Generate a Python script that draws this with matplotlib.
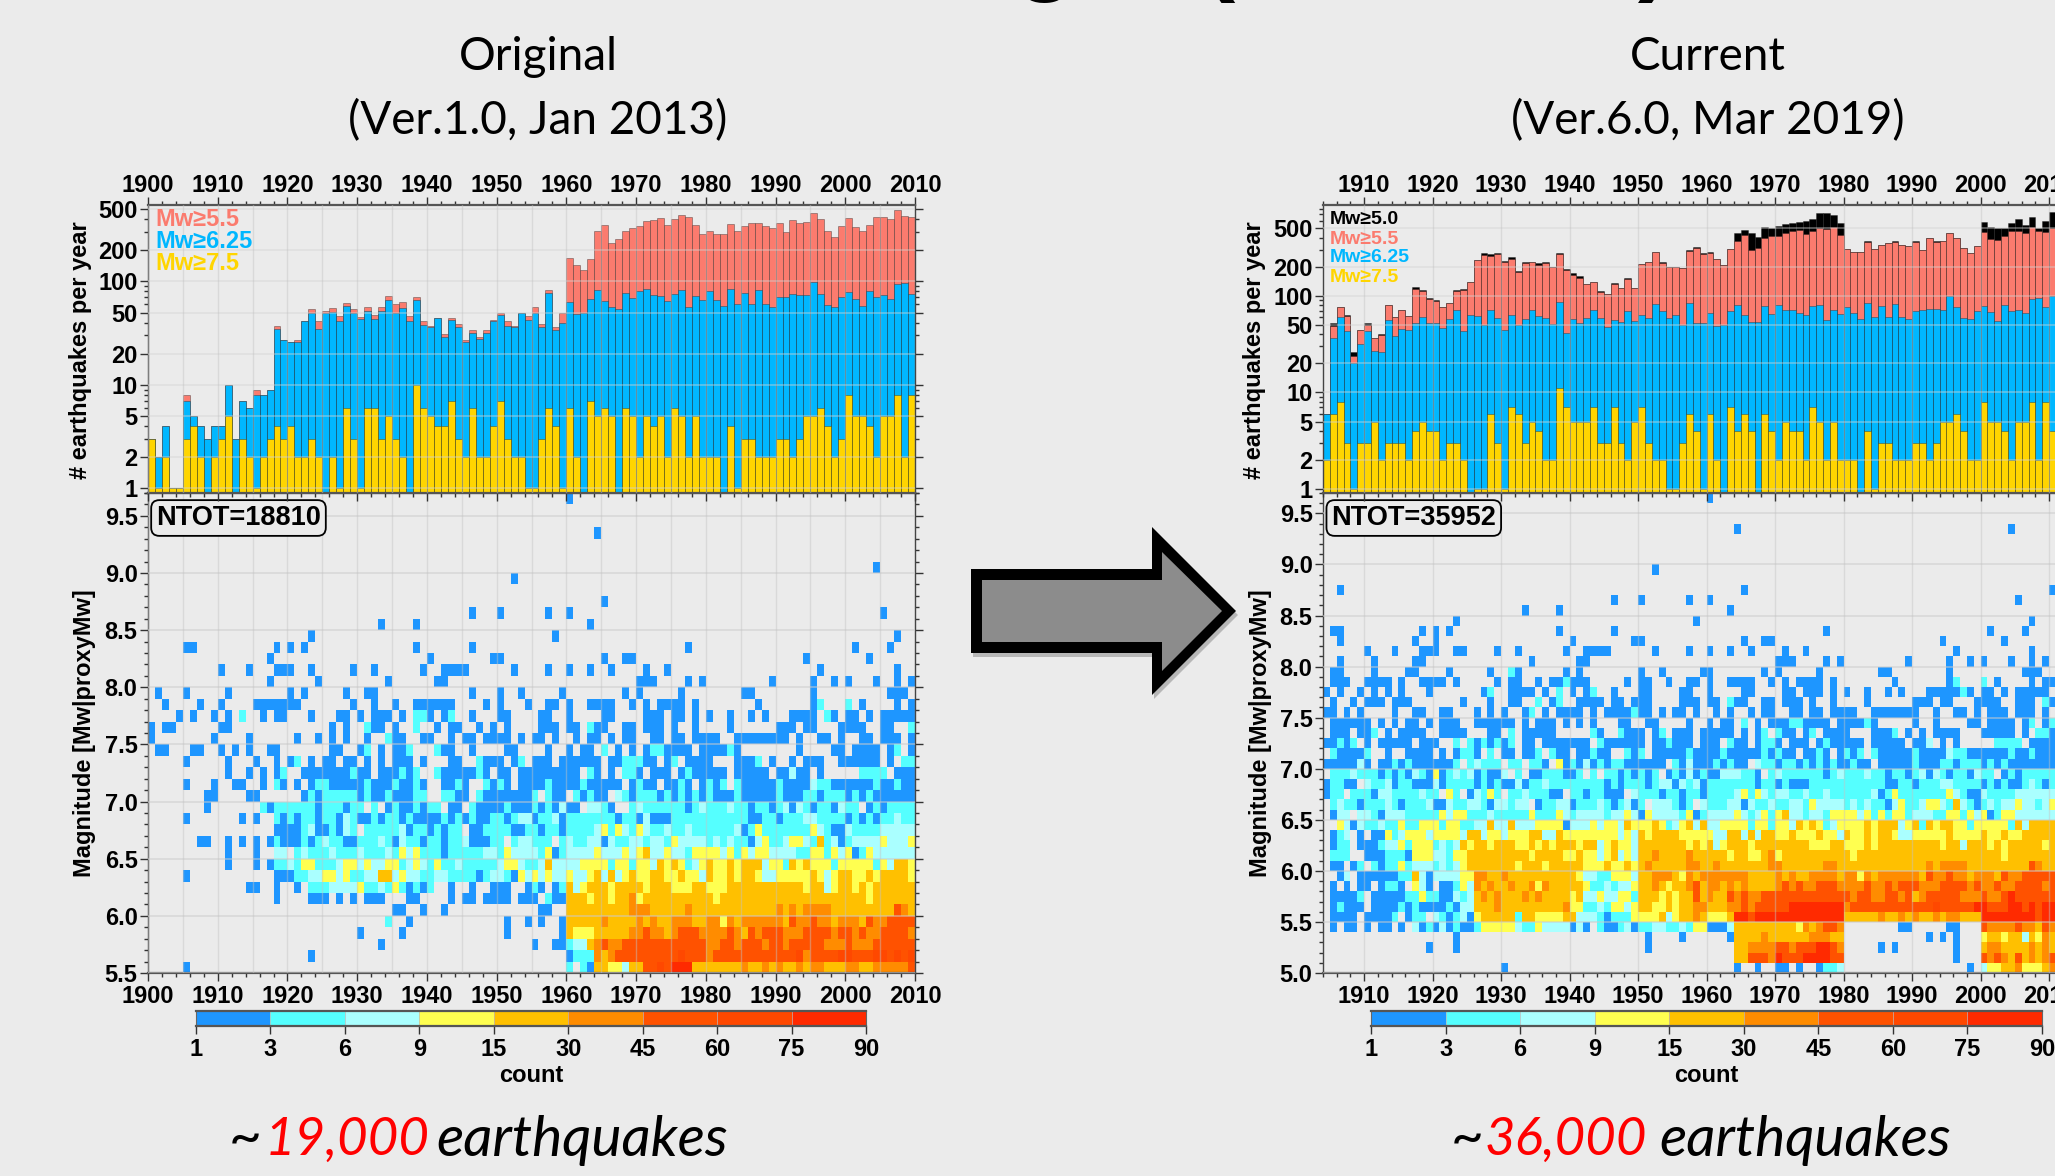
import numpy as np
import matplotlib
matplotlib.use('Agg')
import matplotlib.pyplot as plt
from matplotlib.colors import ListedColormap, BoundaryNorm
from matplotlib.patches import Polygon
from matplotlib.ticker import MultipleLocator, FixedLocator, NullFormatter, FixedFormatter

W, H = 2055, 1176
BG = '#EBEBEB'
# no condensed family is installed, Lato is the narrowest one there is
NARROW = 'Lato'

plt.rcParams['font.family'] = ['Liberation Sans', 'DejaVu Sans']
plt.rcParams['font.weight'] = 'bold'

# colour classes of the count scale
count_bounds = [1, 3, 6, 9, 15, 30, 45, 60, 75, 90]
count_colors = ['#1E96FF', '#55FFFF', '#AAFFFF', '#FFFF50', '#FFC000',
                '#FF8C00', '#FF5200', '#FF4800', '#FF2A00']

# --- earthquakes per year, original catalogue, 1900-2009
left_m75 = [3, 1, 2, 1, 1, 3, 4, 2, 0, 2,
            3, 5, 0, 3, 2, 1, 2, 3, 4, 3,
            4, 2, 2, 3, 2, 0, 2, 1, 6, 3,
            1, 6, 6, 3, 5, 3, 2, 0, 10, 6,
            5, 4, 4, 7, 3, 2, 6, 2, 2, 4,
            7, 3, 2, 2, 1, 1, 3, 6, 4, 1,
            6, 2, 0, 7, 5, 6, 5, 0, 6, 5,
            2, 5, 4, 5, 2, 6, 5, 2, 5, 2,
            2, 2, 0, 4, 1, 3, 3, 2, 2, 2,
            3, 3, 2, 3, 5, 5, 6, 4, 2, 3,
            8, 5, 5, 4, 2, 5, 5, 8, 2, 8]
left_m625 = [3, 2, 4, 1, 1, 7, 5, 4, 3, 4,
             4, 10, 3, 7, 6, 8, 8, 9, 35, 27,
             26, 26, 41, 49, 35, 49, 51, 41, 58, 50,
             43, 52, 43, 52, 66, 50, 55, 41, 66, 38,
             36, 44, 29, 42, 36, 26, 32, 28, 32, 41,
             47, 37, 36, 49, 42, 50, 36, 77, 34, 40,
             63, 48, 50, 68, 83, 65, 56, 54, 77, 69,
             80, 84, 74, 73, 64, 76, 82, 56, 73, 66,
             80, 66, 58, 84, 61, 78, 61, 83, 61, 57,
             70, 71, 76, 74, 74, 99, 76, 59, 56, 70,
             79, 67, 58, 81, 71, 74, 67, 95, 97, 76]
left_m55 = [3, 2, 4, 1, 1, 8, 5, 4, 3, 4,
            4, 10, 3, 7, 6, 9, 8, 9, 37, 27,
            26, 27, 41, 54, 41, 52, 55, 46, 62, 54,
            45, 56, 47, 56, 72, 60, 63, 46, 70, 41,
            37, 44, 31, 44, 39, 27, 34, 29, 34, 42,
            49, 41, 37, 49, 46, 56, 39, 82, 36, 49,
            170, 145, 130, 165, 305, 350, 235, 255, 310, 330,
            340, 385, 390, 410, 350, 405, 440, 420, 350, 290,
            310, 290, 290, 360, 310, 345, 365, 370, 340, 330,
            370, 300, 390, 365, 375, 460, 400, 310, 270, 340,
            410, 335, 310, 350, 420, 415, 400, 490, 430, 415]

# --- earthquakes per year, current catalogue, 1904-2010 (rest is off the slide)
right_m75 = [2, 6, 8, 3, 1, 3, 3, 5, 2, 3,
             3, 3, 2, 4, 5, 4, 4, 2, 3, 3,
             2, 0, 1, 1, 6, 3, 1, 7, 6, 3,
             5, 4, 2, 2, 11, 7, 5, 5, 5, 7,
             3, 3, 7, 3, 2, 5, 7, 3, 2, 2,
             1, 1, 3, 6, 4, 1, 6, 2, 0, 7,
             4, 6, 4, 0, 6, 4, 2, 5, 4, 4,
             2, 7, 5, 2, 5, 2, 2, 2, 0, 4,
             1, 3, 3, 2, 2, 2, 3, 3, 2, 3,
             5, 5, 6, 4, 2, 2, 8, 5, 5, 4,
             2, 5, 5, 8, 2, 8, 4]
right_m625 = [6, 37, 60, 43, 20, 32, 43, 27, 26, 56,
              38, 45, 44, 52, 60, 52, 52, 47, 57, 72,
              43, 63, 62, 50, 72, 59, 44, 64, 50, 57,
              71, 62, 59, 51, 87, 41, 58, 52, 59, 71,
              59, 48, 56, 54, 70, 55, 64, 59, 83, 70,
              59, 64, 50, 84, 52, 53, 66, 49, 50, 69,
              81, 64, 54, 54, 79, 65, 80, 72, 72, 67,
              63, 79, 81, 56, 71, 65, 76, 67, 58, 85,
              60, 78, 61, 82, 60, 57, 69, 71, 74, 73,
              72, 99, 76, 59, 58, 69, 78, 68, 55, 81,
              70, 72, 66, 93, 96, 77, 99]
right_m55 = [6, 49, 76, 62, 24, 44, 50, 37, 39, 80,
             60, 72, 62, 117, 112, 93, 88, 76, 84, 112,
             115, 138, 235, 265, 260, 270, 225, 240, 175, 220,
             222, 210, 218, 198, 270, 187, 165, 155, 133, 138,
             110, 104, 134, 120, 148, 120, 212, 222, 285, 220,
             197, 200, 195, 295, 310, 270, 280, 240, 210, 305,
             370, 430, 300, 315, 395, 415, 420, 450, 470, 480,
             440, 470, 510, 495, 520, 430, 305, 285, 285, 365,
             305, 335, 355, 365, 335, 330, 365, 300, 395, 365,
             370, 450, 395, 310, 275, 330, 460, 390, 375, 420,
             465, 465, 450, 520, 465, 460, 500]
right_m50 = [6, 52, 77, 63, 26, 44, 52, 37, 40, 80,
             60, 72, 62, 125, 114, 95, 90, 76, 85, 116,
             117, 138, 235, 275, 270, 275, 232, 250, 182, 222,
             222, 218, 222, 200, 280, 188, 172, 162, 134, 138,
             112, 104, 135, 121, 153, 121, 214, 223, 288, 226,
             198, 201, 196, 297, 320, 275, 282, 241, 211, 307,
             445, 482, 445, 411, 521, 501, 534, 551, 574, 583,
             592, 631, 728, 716, 689, 574, 306, 286, 286, 366,
             306, 336, 356, 366, 336, 331, 366, 301, 396, 366,
             371, 451, 396, 311, 276, 331, 578, 513, 509, 509,
             565, 621, 542, 662, 510, 597, 739]

# --- magnitude/time cells: row -> "firstcol-lastcol:class" (0.1 Mw rows, 1 yr columns)
left_rows = {
    41: "60:1",
    38: "64:1",
    35: "104:1",
    34: "52:1",
    32: "65:1",
    31: "46:1 50:1 57:1 60:1 105:1",
    30: "33:1 38:1 63:1",
    29: "23:1 58:1 107:1",
    28: "5-6:1 18:1 20:1 22:1 38:1 46:1 77:1 101:1 106:1",
    27: "17:1 40:1 49-50:1 65:1 68-69:1 94:1 103:1",
    26: "10:1 14:1 18-20:1 23:1 29:1 32:1 39:1 42-45:1 52:1 57:1 60:1 63:1 66:1 71:1 74:1 96:1 107:1",
    25: "17:1 24:1 34:1 41-42:1 70-72:1 77:1 79:1 89:1 95:1 98:1 100:1 104:1 107:1 109:1",
    24: "1:1 5:1 11:1 20:1 22:1 28:1 31-32:1 46:1 50:1 53:1 59:1 68:1 70:1 76:1 85-86:1 95:1 106-108:1",
    23: "2:1 7:1 10:1 15-21:1 29:1 32:1 35:1 38-43:1 48:1 50:1 54:1 57-58:1 60:1 63-66:1 69:1 71:1 73-76:1 78:1 87:1 95:1 96:2 100:2 102:1 107:1 109:1",
    22: "4:1 6:1 9:1 11:1 13:2 16:1 18-19:1 23:1 27-28:1 30:1 32-34:1 36:1 38-39:2 40:1 42:1 43:2 46:1 50-51:1 56-57:1 60:1 65-66:1 71-73:1 75-76:1 78:1 80:1 83:1 86:1 88:1 92-95:1 97:2 98:1 100-101:1 103:1 105-109:1",
    21: "0:1 2-3:1 10-11:1 26:1 28:1 31:2 32-33:1 35:1 38:2 41:1 43-44:1 47:1 49:1 51:1 56-58:1 60-61:1 63:2 64-65:1 68-69:1 71-73:1 75:1 78:1 83:1 90-92:1 94-95:1 99-102:1 105-106:1 109:2",
    20: "0:1 9:1 14:1 21:1 24:1 26:1 28:1 31:1 34:2 35-36:1 39-40:1 43:1 45-46:1 48-51:1 53:1 55-56:1 58:1 61:1 63-64:1 66:1 68-69:1 72-73:1 75-76:1 78-81:1 84-91:1 93:1 96-97:1 99:1 102-103:1 105-107:1 109:1",
    19: "1-2:1 6-7:1 10:1 12:1 14:1 17-18:1 26-27:1 30:1 31:2 33:1 35-36:1 37:2 41:2 42-43:1 46:1 51-52:1 57:1 60:1 62-63:1 65:2 67:1 69:1 71:1 72-73:2 74:1 75-77:1 79-82:1 83:2 84:1 93:1 98-99:1 101-104:1 106:1 107:2 109:1",
    18: "5:1 11:1 15:1 18:1 20:1 21:2 23:1 25-26:1 28-29:1 31:1 33:1 35-37:1 39:1 43-44:1 47:2 48-50:1 52:1 53:2 55-57:1 59-64:1 66-67:1 68-70:2 71-72:1 74:1 75:2 77-80:1 84-86:1 87:2 89:1 92:1 94-96:1 99-104:1 106:1 108-109:2",
    17: "11:1 14:1 16:1 18:1 19:2 22-28:1 29:2 30-31:1 33-35:1 36:2 37:1 38:2 41:2 42-46:1 47:2 48:1 50-51:1 53-61:1 63:2 64:1 66:1 68-69:2 70:1 72-74:1 76:1 77:2 78-82:1 84-88:1 90-91:1 92:3 93-94:1 96:1 102-105:2 107-109:1",
    16: "5:1 9:1 12-13:1 16:1 18:2 19:1 21:1 23:1 24-25:2 26-29:1 30:1 31:2 32-34:1 35:2 36-37:1 38:2 39:1 42-43:1 44:2 45:1 48:2 49:1 50:2 51:1 53-56:1 57:2 58-61:1 62:2 63-67:1 69:1 70:2 71-72:1 74-75:1 76:2 77:1 79:1 80:2 81:1 82:2 84:2 85-89:1 90:2 91-94:1 95:3 96-97:2 98-103:1 104:2 105-106:1 107:2 108-109:1",
    15: "8-9:1 14-15:1 22:1 23:2 24:1 25-29:2 30:1 31:2 32-33:1 34:2 35-37:1 38-39:2 42-43:2 44-45:1 47:2 48-54:1 55:2 57:2 58-59:1 61:2 62:1 63:2 64-65:1 67:3 68:2 69:1 70-72:2 73:1 74:2 75:1 76:2 77:1 78:2 79:1 80:2 81-83:1 84:2 85-89:1 90:2 91-93:1 94-95:2 96:1 97-99:2 100:1 101:2 102:1 103:2 104-109:1",
    14: "8:1 16:2 17:1 18-23:2 24:1 25-27:2 28:1 29-30:2 32:2 34:1 35:2 36-37:1 38:2 39:1 40-41:2 43-44:1 46:2 47-50:1 51:2 52-54:1 55:2 56:1 57:2 58:1 59:3 60-61:1 63-64:3 65:2 66:1 69:2 70:3 71-76:2 77:1 78:2 79:3 80-82:2 83:3 84-85:2 86:1 87-88:2 89:1 90:2 91:3 92:1 93:3 94:2 95:1 96-97:2 98:1 99:3 100-101:2 103:1 104:2 105:1 106-109:2",
    13: "5:1 13:1 15:1 18:2 19:1 20:2 21:1 22-23:2 24:1 25-26:2 27:1 28:3 29:2 30-31:1 32:2 33:1 34-35:2 36:1 37:2 38-41:1 42:2 43:1 44:2 45:1 46:2 47-48:1 49-50:2 51:1 52:2 53-54:3 55:1 56-57:2 58:3 59:1 60-66:2 67:1 68-69:2 70:1 71:3 72-74:1 75-85:2 86-87:1 88-89:2 90:1 91-93:2 94-95:3 96-99:2 100:1 101:2 102:1 103:2 104:1 105-106:2 107:3 108-109:2",
    12: "18-21:1 22:2 23:3 24-25:1 26:2 27:1 28:3 29:2 31-35:2 36:3 37:1 38-39:2 40:1 41:2 42:1 43-44:2 46-47:1 48-51:2 52-53:1 54-55:2 56:1 57-58:2 59:1 60-63:2 64:3 65:4 66:2 67:4 68:3 69:2 70:4 71:3 72-73:2 74:3 75-76:2 77:3 78-83:2 84:3 85:1 86:2 87:4 88-94:2 95:4 96:3 97:2 98-99:1 100:3 101-104:2 105-109:3",
    11: "7-8:1 11:1 13:1 15:1 17:1 18:2 19-21:1 22:2 23:1 24:2 25:3 26-27:2 28-29:1 30-32:2 33:3 34:2 35:1 36:3 37-38:2 39:1 40-41:2 42:1 43-44:2 45:3 46-48:1 49-50:2 52:2 53-54:3 55-57:2 59:2 60:3 61-62:2 63-64:3 65:1 66:3 67-68:2 69-70:3 71:2 72-73:3 74:2 75:4 76-79:3 80:2 81:3 82:2 83:3 84-85:2 86:1 87:3 88:4 89-90:2 91:3 92-93:4 94:3 95:2 96:5 97:2 98:3 99:1 100:2 101-104:3 105:4 106-108:3 109:4",
    10: "11:1 15:1 18-19:3 21:2 22:3 23-25:2 26:3 27-29:2 30:3 31-33:2 34:3 35:2 36:4 37:3 38:4 39-41:2 42:1 43-47:2 48-49:3 50:2 51:4 52-55:3 56:2 57:4 58:1 59:2 60-63:3 64:4 65-67:3 68:4 69:3 70:4 71:5 72-73:3 74:4 75-76:3 77:2 78-81:4 82:3 83:4 84:2 85:4 86:3 87-88:4 89-92:3 93-94:2 95-96:4 97:2 98:4 99:3 100:4 101:1 102:2 103:4 104-109:3",
    9: "11:1 15:1 17:1 18-19:2 20:3 21:2 22-23:4 24-26:2 27:3 28-29:4 30:3 31:4 32-33:3 34-35:4 36:2 37:3 38:4 39:3 40:2 41:4 42-43:2 44:3 45-49:2 50:3 51-52:4 53:3 54-55:2 56:3 57:5 58-61:3 62-65:4 66:2 67-68:4 69:2 70-71:4 72:3 73:5 74:4 75:5 76:4 77:2 78:3 79:4 80:5 81-82:4 83:5 84:4 85-87:5 88:3 89-90:4 91:2 92:5 93:4 94:5 95-97:4 98:2 99-103:4 104:2 105:4 106:3 107-108:5 109:4",
    8: "5:1 18-20:1 21-22:2 23-24:3 25-26:4 27:3 28:4 29-30:2 31-32:3 33-34:5 35:3 36:4 37-38:3 39-40:2 41-42:3 43-46:2 47:1 48:2 49-50:3 51:2 52:1 53:4 54:3 55:4 56:3 57:4 58-59:3 60:4 61-62:3 63:4 64:5 65:3 66:5 67:3 68:4 69:5 70-71:4 72-73:5 74-75:4 76:5 77-78:4 79:3 80:5 81-82:4 83:5 84:4 85-86:5 87:4 88-89:3 90-94:4 95:5 96:4 97:3 98:4 99-100:5 101-102:4 103:5 104:4 105-108:5 109:4",
    7: "14-15:1 18:1 21:1 23-25:2 26-29:3 30:4 31-32:2 33:3 34:2 35:4 36:2 37:1 38:2 39:1 40:2 43:1 46:1 49-51:1 54:1 55:2 56:1 58:1 59:2 60:5 61:3 62:4 63-65:5 66:4 67-70:5 71:4 72-74:5 75-77:4 78-79:5 80-82:4 83-93:5 94:4 95-96:5 97:3 98:4 99-100:5 101:4 102:5 103:4 104-109:5",
    6: "18:1 23-25:1 27:1 29:1 31-33:1 37-38:1 43:1 45-46:1 48-51:1 53-55:1 57:2 58-59:1 60-62:5 63:4 64-65:5 66:4 67-68:5 69:6 70:4 71-80:5 81:4 82-102:5 103:4 104-109:5",
    5: "35-36:1 39:1 42:1 56-57:1 60-68:5 69-71:6 72-76:5 77:6 78-89:5 90:6 91:5 92:6 93:5 94-97:6 98-106:5 107:7 108:6 109:5",
    4: "34:2 37:1 51:1 54:1 56:1 59:1 60-64:5 65:6 66-69:5 70:6 71:5 72:6 73-74:5 75-77:6 78-79:5 80-81:6 82:4 83:6 84:5 85-90:6 91:5 92:7 93-94:6 95:7 96-97:6 98:5 99-101:6 102:5 103:7 104-105:6 106-109:7",
    3: "30:1 36:1 51:1 59:1 60:5 61-63:4 64-68:5 69-70:6 71:7 72-73:6 74:5 75:6 76-78:7 79-82:6 83:7 84:6 85:5 86:7 87:6 88-90:7 91-93:6 94-97:7 98:6 99-100:7 101:6 102:7 103-104:6 105-108:7 109:6",
    2: "33:1 55:1 58-59:1 60:2 61-62:3 63:5 64:6 65:7 66-67:6 68-79:7 80-81:6 82-83:7 84:6 85-87:7 88:6 89-90:7 91:6 92-96:7 97-99:6 100:7 101-103:6 104-109:7",
    1: "23:1 60:1 61-63:2 64:6 65:5 66:6 67-75:7 76:8 77-79:7 80:6 81-92:7 93:8 94:6 95-98:7 99-100:8 101-103:7 104-105:8 106:7 107:8 108:7 109:8",
    0: "5:1 60:2 62:2 63:1 64-65:5 66-67:4 68:3 69-70:5 71-72:7 73:8 74:7 75-77:9 78-84:5 85:6 86-87:5 88:6 89:5 90:6 91-92:5 93:6 94:5 95-96:6 97-99:5 100-101:6 102-103:5 104-108:6 109:7",
}
right_rows = {
    46: "56:1",
    43: "60:1 100:1",
    39: "48:1",
    37: "2:1 61:1 106:1",
    36: "42:1 46:1 53:1 56:1 101:1",
    35: "29:1 34:1 59:1",
    34: "19:1 54:1 103:1",
    33: "1-2:1 14:1 16:1 18:1 34:1 42:1 73:1 97:1 102:1",
    32: "2:1 13:1 16:1 36:1 45-46:1 61:1 64-65:1 90:1 99:1",
    31: "6:1 10:1 14-16:1 19-20:1 25:1 28:1 35:1 38-41:1 48:1 53:1 56:1 59:1 62:1 67:1 70:1 92:1 103:1",
    30: "2:1 7:1 13-14:1 30:1 37-38:1 66-68:1 73:1 75:1 85:1 91:1 94:1 96:1 100:1 103:1 105:1",
    29: "1-2:1 7:1 12-13:1 18:1 24:1 27:2 28:1 35:1 37:1 46:1 49:1 55-56:1 64:1 66:1 72:1 81-82:1 91:1 102-104:1",
    28: "1-3:1 6-9:1 11:1 14-17:1 19:1 25:1 27-28:1 31:1 33-34:1 35:2 36-38:1 44:1 46-47:1 50:1 53-54:1 56:1 59-62:1 65:1 67:1 69-72:1 74:1 83:1 91:1 92:2 96:2 98:1 103:1 105-106:1",
    27: "0:1 2:1 5:1 7:1 9:1 11:1 15:1 23:1 24:2 27-30:1 32:1 34:2 36:1 38:1 39:2 42:1 46-47:1 52-53:1 56:1 61-62:1 67-68:1 70-72:1 74:1 76:1 79:1 82:1 84:1 88-92:1 93:2 94:1 96-97:1 99:1 101-105:1",
    26: "1:1 4:1 6-8:1 10-12:1 20:1 24:1 27-28:1 31:2 33:1 34:2 37-40:1 42-43:1 45-47:1 52-54:1 56-57:1 59:2 60-61:1 64-65:1 67-69:1 71:1 74:1 79:1 86-88:1 90-91:1 95-98:1 101-103:1 105:2 106:1",
    25: "0-1:1 3:1 5:1 10:1 13-14:1 17-18:1 22:1 24:1 26:1 29:1 30:2 32:1 34-37:1 39:1 41-44:1 45:2 46-47:1 49:1 51-52:1 54:1 57:1 59:1 62:1 64-65:1 68-69:1 71-72:1 74-77:1 80-86:1 89:1 92-93:1 95:1 97-99:1 101-103:1 105:1",
    24: "1-6:1 8:1 10:1 12-13:1 15:1 17-19:1 22-27:1 29:1 31-33:1 35:1 37:1 39:1 43-44:1 47-48:1 53:1 56:1 58-59:1 61:2 63:1 65-67:1 68-69:2 70-73:1 75-78:1 79:2 80:1 86:1 89:1 94-95:1 97-100:1 102:1 103:2 105:1 106:2",
    23: "1-3:1 5-6:1 7:2 9:1 11-14:1 17-20:1 24-25:1 27:2 29-33:1 39:2 40:1 43:2 44-46:1 48:1 49:2 51-53:1 55-59:1 61:1 63:1 64:2 66:2 67-68:1 70:1 71:2 73-76:1 80-82:1 83:2 85:1 87:1 89:1 90-92:1 96-100:1 102:1 104-105:2 106:1",
    22: "0-1:1 2:2 3:1 4:2 6:1 8-12:1 14-16:1 19:2 21:2 22:1 23:2 24:1 25:2 26:1 27:2 29-30:1 32-38:1 40:2 41-46:1 48-49:1 50:2 51-53:1 55-57:1 59:2 60-61:1 63:1 64-65:2 66:1 68-70:1 72:1 73:2 74-78:1 80-84:1 86-87:1 88:3 90:1 92:1 98-101:2 103-106:1",
    21: "1:2 2-5:1 6:2 9:1 12-15:1 17:1 19:1 20-21:2 22:1 24:2 26-27:1 29-30:1 31:2 33:2 34-35:1 37-38:1 39:2 40-41:1 44:2 45:1 46:2 48-52:1 53:2 54-57:1 58:2 59-63:1 64:2 65:1 66:2 67-68:1 70-71:1 72:2 73:1 75:1 76:2 77:1 78:2 80:2 81-85:1 86:2 87-90:1 91:3 92-93:2 94-99:1 100:2 101-102:1 103:2 104-106:1",
    20: "0-4:1 5:3 6:1 8-9:1 10:2 11:1 12:2 13-18:1 19:2 21:2 22:3 23-25:2 27-28:2 30-31:2 32:1 34:4 35:1 36:2 37:1 38:3 39:1 40:2 41:1 42-43:2 44-49:1 51:2 52:1 53:3 54-56:1 57:2 58:1 59:2 60-61:1 63:3 64-65:2 66:1 67-68:2 69:1 70:2 71:1 72:2 73:1 74:2 75-76:1 77:2 78-79:1 81-85:1 86:2 87-89:1 90-91:2 92:1 93-95:2 96:1 97:2 98:1 99:2 100-106:1",
    19: "1-3:2 4:3 5-7:2 8:1 9:2 10:1 11:2 12:1 13:3 14:2 15:1 16:4 17:1 18:2 19:3 20:2 21:3 22:1 23:2 24-25:1 26:3 28:2 30-31:1 32-34:2 35-36:1 37:2 39:2 41-42:2 43:1 44:2 45:1 46:2 47:1 48:2 50:1 51:2 52:1 53:3 54:1 55:2 56-57:1 58-60:3 61-62:2 63:1 65:2 66:3 67-72:2 73:1 74:2 75:3 76-78:2 79:3 80-81:2 82:1 83-84:2 85:1 86:2 87:3 88:1 89:3 90:2 91:1 92-93:2 94:1 95:3 96-97:2 99:1 100:2 101:1 102-106:2",
    18: "0:1 1-2:2 3-4:1 6:3 7-8:2 9:3 10:1 11-12:2 13-15:1 16:3 17:1 18-21:2 22:1 23:2 24:1 25:2 26-27:1 28:3 29:1 30-31:2 32:3 33-40:2 41:1 42:2 43:1 44-46:2 47:1 48:2 49-50:3 51:1 52:3 53:2 54:3 55:1 56-62:2 63:1 64-65:2 66:1 67:2 68-70:1 71-81:2 82-83:1 84-85:2 86:1 87-89:2 90-91:3 92-95:2 96:1 97:2 98:1 99:2 100-101:1 102:2 103:3 104:2 105:1 106:2",
    17: "0:1 1-2:2 4-6:2 7:1 8-9:3 10-13:2 14:3 15-16:2 18:4 19:2 21:1 22:3 23:2 24:4 25:2 27-28:2 29:3 30-32:2 33-34:1 36-37:2 38:1 39-40:2 41-43:1 45:3 46-48:2 49:1 50-51:2 52:1 53-54:2 55:1 56-59:2 60:3 61:4 62:2 63:4 64:3 65:2 66-67:3 68-69:2 70:3 71-72:2 73:3 74-79:2 80:3 81:1 82:2 83:4 84-90:2 91:4 92:3 93:2 94-95:1 96:3 97-100:2 101-106:3",
    16: "1:2 2:3 3-4:2 5:1 6-8:2 9:3 10:2 11:1 12-14:2 15:3 16-17:1 18:3 19-20:2 21-22:3 23:2 24:1 25-26:3 27:2 28-29:3 31:1 32-33:2 34-35:3 36:1 37-39:2 40:3 41:2 42:1 43:2 44:3 45:1 46:2 48-50:3 51:2 52:1 53:2 55:3 56-58:2 59-60:3 61:1 62:3 63-64:2 65:3 66-67:2 68-69:3 70:2 71:4 72-75:3 76:2 77:3 78:2 79:3 80-81:2 82:1 83:3 84:4 85-86:2 87:3 88-89:4 90:3 91:2 92:5 93:3 94:2 95:1 96:2 97:3 98:2 99-100:3 101:4 102-103:3 104:2 105:3 106:4",
    15: "1:1 2-3:3 5-6:3 7:2 8:1 9-11:3 12-16:2 17:4 18:3 19-20:4 21-23:2 24:3 25-29:2 30:4 31-33:2 34:4 35:3 36:2 37-40:3 41:2 42-43:3 44:4 45:3 46:1 47:4 48-51:3 52:2 53:4 54:1 55:2 56-59:3 60:4 61:3 62:2 63:3 64:4 65:2 66:4 67:5 68-69:3 70:2 71-72:3 73:2 74-77:4 78:3 79:4 80:2 81:4 82:2 83-84:4 85:2 86-88:3 89-90:2 91-92:4 93:2 94:4 95:3 96:4 97:1 98:2 99-100:4 101-106:3",
    14: "2:4 3:3 4:1 5:3 6-7:2 8:3 9-10:2 11:4 12-13:2 14-16:4 17:2 18-19:4 20-21:2 22-23:3 24:5 25-26:3 27:5 28-30:3 31-34:4 35:1 36-38:3 39:4 40:3 41-42:4 43:3 44:5 45-47:4 48:5 49:4 50:2 51:3 52:4 53:5 54:3 55:5 56-57:3 58-61:4 62:2 63-64:4 65:2 66-67:4 68:3 69:5 70:4 71:5 72:4 73:2 74:3 75-78:4 79:5 80:4 81-83:5 84:3 85:4 86:5 87:2 88:5 89:4 90-91:5 92-93:4 94:2 95-99:4 100:2 101:5 102:3 103-106:5",
    13: "1:1 2:2 3:3 5:1 7-8:1 9:4 10:2 11:3 12-14:4 15:3 16-19:4 20:3 21-22:5 23:3 24-25:4 26:3 27-29:4 30-31:5 32-33:3 34:5 35-42:4 43:3 44:4 45:3 46:5 47:4 48-51:5 52-56:4 57-58:3 59-60:5 61:3 62:5 63:3 64-65:5 66-67:4 68:5 69-71:4 72:5 73-74:4 75:3 76:5 77-78:4 79:5 80:4 81-82:5 83:4 84-85:3 86-90:4 91:5 92-95:4 96:5 97-98:4 99:5 100-101:4 102-106:5",
    12: "1:1 2-3:2 5:1 6-7:1 8:2 9-10:3 11:4 12:2 13-15:4 16:2 17:3 18:2 19:3 20:5 21:4 22-23:5 24:4 25-27:5 28-29:4 30:5 31:4 32:5 33:4 34-36:5 37:4 38-39:5 40:3 41:4 42:5 43-44:4 45:3 46-52:5 53:4 54:5 55:4 56:5 57:3 58:4 59-61:5 62:4 63-70:5 71-73:4 74-75:5 76-78:4 79:5 80:4 81-89:5 90:4 91-92:5 93:3 94-96:5 97:4 98:5 99:4 100-104:5 105:4 106:5",
    11: "1-3:2 6-8:1 9-11:2 12:1 13-15:4 16-17:3 18:2 19-20:4 21-29:5 30:4 31-34:5 35-36:4 37:5 38-39:4 40:3 41:4 42:5 43:3 44:4 45:3 46-47:5 48:6 49-52:5 53:6 54-58:5 59:4 60-61:5 62-63:4 64:5 65:6 66:4 67-76:5 77:4 78-98:5 99:4 100-106:5",
    10: "1-2:1 4:1 5:2 7:2 8:1 9-10:2 11:4 12:2 13-15:3 16:2 17:3 18:2 19:3 20:4 21-27:5 28:4 29-31:5 32:4 33-37:5 38-40:4 41:5 42-43:4 44:5 45:4 46:5 47:6 48-52:5 53-54:6 55-56:5 57:6 58-64:5 65-66:6 67-72:5 73-74:6 75-87:5 88:6 89:5 90-93:6 94-102:5 103:7 104:6 105-106:5",
    9: "2:1 3:3 5-10:1 11-12:2 13:5 14:3 15:1 16-19:3 20-21:4 22-23:6 24-25:5 26:6 27-36:5 37:4 38-39:3 40-41:2 42-44:4 45:3 46-47:5 48-50:6 51:5 52:4 53:6 54:5 55-61:6 62-65:5 66:6 67:5 68:6 69-70:5 71-74:6 75:5 76-77:6 78:4 79:6 80:5 81-86:6 87:5 88:7 89-90:6 91:7 92-93:6 94:5 95-97:6 98:5 99:7 100-101:6 102-106:7",
    8: "1:1 3:1 5-6:1 8:1 9-10:2 11:1 13:4 14:3 15:1 17-18:1 19:2 20:4 21:3 22:6 23:5 24:6 25-26:5 27:6 28-29:5 30:6 31:4 32:6 33-37:5 38:4 39-40:2 41:3 42:2 43-44:3 45:4 46-47:5 48:6 49:5 50:4 51-52:5 53:6 54:7 55:5 56-57:6 58:5 59:6 60:5 61:6 62-65:5 66:6 67:7 68:6 69:7 70-71:6 72-74:7 75-78:6 79:7 80-81:6 82:7 83:6 84-86:7 87-89:6 90-93:7 94:6 95:7 96-97:6 98:7 99-100:6 101-104:7 105:6 106:7",
    7: "1-4:1 5:2 7-11:1 12-13:2 14:4 15-16:2 17-18:1 19:3 20:2 21:3 22:5 23:6 24:5 25:6 26-28:5 29:6 30:5 31:6 32-35:5 36:4 37:5 38-39:3 40:4 41-42:3 43-44:4 45:2 46-48:5 49:4 50:5 51:4 52-53:5 54:7 55:5 56:6 57-58:5 59:7 60:6 61:7 62-63:6 64-76:7 77:6 78-79:7 80-81:6 82-83:7 84:6 85:7 86:5 87:6 88-92:7 93-95:6 96:7 97-98:6 99:7 100:9 101-106:7",
    6: "1:1 2:2 3-5:1 7-10:1 11:2 12:1 13:2 14-17:1 18:2 19:1 20-21:3 22-24:5 25:6 26-34:5 35:6 36-37:4 38-39:2 40:3 41:2 42-43:4 44:3 45:4 46-47:5 48-49:4 50:5 51:4 52-53:5 54-55:6 56-58:5 59-60:6 61:7 62:6 63-67:7 68-75:9 76:6 77-88:7 89:8 90-94:7 95-96:9 97-99:7 100-101:9 102:7 103:9 104:7 105-106:9",
    5: "1-4:1 6-9:1 10:2 12:1 13-14:2 16:3 17:2 18:1 19:2 20:3 21:1 22:4 23-27:5 28:2 29-30:5 31-34:4 35-36:5 37-39:3 40:2 41:1 42-44:2 45-48:4 49:5 50:3 51:4 52-53:5 54:6 55:5 56-58:4 59:5 60-61:9 62:7 63-75:9 76-80:5 81:6 82-83:5 84:6 85:5 86:6 87-88:5 89:6 90:5 91-92:6 93-95:5 96-103:9 104:7 105-106:9",
    4: "1:1 3-4:1 6:1 8-9:1 11:1 13:3 14:1 15:2 16:1 17:3 18:1 19:2 20-21:1 22:2 23-27:4 28:3 29-30:2 31:4 32-35:3 36:1 37:3 38:1 40:2 41-42:1 43:2 44:3 45:1 46-47:2 48-49:3 50-51:2 52:3 53:2 54-55:4 56-58:1 59:3 60-68:5 69:4 70:6 71:5 72:6 73-74:7 75:6 84-85:1 91-92:1 96:7 97-100:6 101:7 102-103:6 104:5 105:7 106:6",
    3: "19:1 47:1 52:1 59:1 60-63:5 64:6 65-70:5 71-73:6 74-75:5 88:1 90:1 92:1 96:4 97-98:5 99:4 100-101:5 102:3 103:5 104:4 105:6 106:5",
    2: "15:1 19:1 47:1 60-61:5 62-65:6 66-67:7 68:6 69-71:7 72-73:9 74:7 75:6 81:1 83:1 92:1 96:5 97-98:6 99-102:5 103:6 104:5 105:6 106:5",
    1: "60-61:5 62-64:7 65:6 66:9 67-69:7 70-73:9 74-75:7 92:1 96:7 97:6 98:7 99:6 100:5 101:7 102:5 103:6 104:5 105:6 106:7",
    0: "26:1 60:1 63:1 66-67:1 69:1 72:1 73-74:2 75:3 94:1 96:3 97-98:4 99-100:5 101:6 102-104:4 105:5 106:6",
}

top_ticks = [1, 2, 5, 10, 20, 50, 100, 200, 500]
count_ticks = [1, 3, 6, 9, 15, 30, 45, 60, 75, 90]
legend_colors = {'Mw≥5.0': 'black', 'Mw≥5.5': '#FB7B6E', 'Mw≥6.25': '#00B7FF', 'Mw≥7.5': '#FFD500'}


def frac(x, y):
    return x / W, 1 - y / H


def ax_px(fig, left, top, right, bottom):
    return fig.add_axes([left / W, 1 - bottom / H, (right - left) / W, (bottom - top) / H])


def style_axes(ax, grid_step):
    ax.set_facecolor(BG)
    ax.xaxis.set_major_locator(MultipleLocator(10))
    ax.xaxis.set_minor_locator(MultipleLocator(2))
    for s in ['left', 'right']:
        ax.spines[s].set_color('#444444')
        ax.spines[s].set_linewidth(1.0)
    for s in ['top', 'bottom']:
        ax.spines[s].set_color('#555555')
        ax.spines[s].set_linewidth(1.6)
    ax.tick_params(which='major', length=5.5, width=1.0, color='#333333', labelsize=17, pad=2)
    ax.tick_params(which='minor', length=2.8, width=1.0, color='#333333')
    ax.tick_params(axis='y', which='both', left=True, right=True)
    # grid goes over the marks, it shows faintly through them
    for g in np.arange(1900, 2030, grid_step):
        ax.axvline(g, color='#c4c4c4', lw=1.0, alpha=0.45, zorder=5)


def draw_counts(ax, x0, series, xlim, ylim):
    n = len(series[0][0])
    years = x0 + np.arange(n)
    for vals, col in series:
        ax.bar(years, vals, width=1.0, align='edge', color=col,
               edgecolor=(0.1, 0.1, 0.1, 0.42), linewidth=0.6, zorder=2)
    ax.set_yscale('log', nonpositive='clip')
    ax.set_xlim(*xlim)
    ax.set_ylim(*ylim)
    ax.yaxis.set_major_locator(FixedLocator(top_ticks))
    ax.yaxis.set_major_formatter(FixedFormatter([str(t) for t in top_ticks]))
    ax.yaxis.set_minor_formatter(NullFormatter())
    for t in top_ticks:
        ax.axhline(t, color='#d4d4d4', lw=1.4, alpha=0.4, zorder=5)
    ax.xaxis.tick_top()


def expand(rows, nrows, ncols):
    grid = np.full((nrows, ncols), np.nan)
    for r, spec in rows.items():
        for tok in spec.split():
            span, lvl = tok.split(':')
            a, _, b = span.partition('-')
            grid[r, int(a):int(b or a) + 1] = count_bounds[int(lvl) - 1]
    return grid


def draw_cells(ax, x0, y0, rows, nrows, ncols, cmap, norm, xlim, ylim):
    grid = expand(rows, nrows, ncols)
    xe = x0 + np.arange(ncols + 1)
    ye = y0 + 0.1 * np.arange(nrows + 1)
    ax.pcolormesh(xe, ye, np.ma.masked_invalid(grid), cmap=cmap, norm=norm, zorder=2)
    ax.set_xlim(*xlim)
    ax.set_ylim(*ylim)
    ax.yaxis.set_major_locator(MultipleLocator(0.5))
    ax.yaxis.set_minor_locator(MultipleLocator(0.1))
    ax.yaxis.set_major_formatter('{x:.1f}')
    for g in np.arange(y0, 9.6, 0.5):
        ax.axhline(g, color='#cccccc', lw=1.3, alpha=0.55, zorder=5)


def draw_colorbar(fig, left, right, cmap, norm):
    cax = ax_px(fig, left, 1011, right, 1026)
    xe = np.arange(len(count_ticks))
    cax.pcolormesh(xe, [0, 1], np.array([count_ticks[:-1]]), cmap=cmap, norm=norm)
    cax.set_xticks(xe)
    cax.set_xticklabels([str(t) for t in count_ticks], fontsize=17)
    cax.set_yticks([])
    cax.tick_params(axis='x', length=6, width=1.0, color='#333333', pad=3)
    for s in ['left', 'right']:
        cax.spines[s].set_linewidth(0.8)
        cax.spines[s].set_color('#666666')
    for s in ['top', 'bottom']:
        cax.spines[s].set_linewidth(1.6)
        cax.spines[s].set_color('#555555')
    for v in xe[1:-1]:
        cax.axvline(v, color='#bbbbbb', lw=0.5)
    x_mid = (left + right) / 2 / W
    fig.text(x_mid, 1 - 1076 / H, 'count', ha='center', va='center', fontsize=17)


def ntot_box(ax, x, y, s):
    ax.text(x, y, s, transform=ax.transAxes, ha='left', va='top', fontsize=19.5,
            zorder=8, bbox=dict(boxstyle='round,pad=0.18,rounding_size=0.3', fc=BG, ec='black', lw=1.3))


def px_poly(fig, points, **kw):
    pts = [frac(x, y) for x, y in points]
    return Polygon(pts, closed=True, transform=fig.transFigure, **kw)


fig = plt.figure(figsize=(W / 100, H / 100), dpi=100, facecolor=BG)
cmap = ListedColormap(count_colors)
norm = BoundaryNorm(count_bounds, cmap.N)

# left column
top_l = ax_px(fig, 148, 205.5, 915, 493)
draw_counts(top_l, 1900, [(left_m55, '#FB7B6E'), (left_m625, '#00B7FF'), (left_m75, '#FFD500')],
            (1900, 2010), (0.9, 542))
style_axes(top_l, 5)
top_l.tick_params(axis='x', which='both', top=True, bottom=True, labeltop=True, labelbottom=False, pad=0.5)
top_l.set_zorder(3)
heat_l = ax_px(fig, 148, 493, 915, 973)
draw_cells(heat_l, 1900, 5.5, left_rows, 42, 110, cmap, norm, (1900, 2010), (5.5, 9.7))
style_axes(heat_l, 5)
heat_l.tick_params(axis='x', pad=3)

# right column, runs past the slide edge
x_per_year = 6.85
top_r = ax_px(fig, 1323, 205.5, 1323 + 116 * x_per_year, 493)
draw_counts(top_r, 1904, [(right_m50, 'black'), (right_m55, '#FB7B6E'),
                          (right_m625, '#00B7FF'), (right_m75, '#FFD500')],
            (1904, 2020), (0.91, 863))
style_axes(top_r, 10)
top_r.tick_params(axis='x', which='both', top=True, bottom=True, labeltop=True, labelbottom=False, pad=0.5)
top_r.set_zorder(3)
heat_r = ax_px(fig, 1323, 493, 1323 + 116 * x_per_year, 973)
draw_cells(heat_r, 1904, 5.0, right_rows, 47, 107, cmap, norm, (1904, 2020), (5.0, 9.7))
style_axes(heat_r, 10)
heat_r.tick_params(axis='x', pad=3)

draw_colorbar(fig, 196, 866, cmap, norm)
draw_colorbar(fig, 1371, 2042, cmap, norm)

ntot_box(heat_l, 0.0105, 0.975, 'NTOT=18810')
ntot_box(heat_r, 0.0105, 0.975, 'NTOT=35952')

# legends
for label, y in zip(['Mw≥5.5', 'Mw≥6.25', 'Mw≥7.5'], [219, 241, 263]):
    fig.text(155 / W, 1 - y / H, label, color=legend_colors[label], fontsize=17, va='center', zorder=10)
for label, y in zip(['Mw≥5.0', 'Mw≥5.5', 'Mw≥6.25', 'Mw≥7.5'], [219, 239, 258, 277]):
    fig.text(1330 / W, 1 - y / H, label, color=legend_colors[label], fontsize=14, va='center', zorder=10)

# axis labels
for x, y, s in [(80, 350, '# earthquakes per year'), (85, 733, 'Magnitude [Mw|proxyMw]'),
                (1254, 350, '# earthquakes per year'), (1260, 733, 'Magnitude [Mw|proxyMw]')]:
    fig.text(x / W, 1 - y / H, s, rotation=90, ha='center', va='center', fontsize=17)

# titles
for x, a, b in [(538, 'Original', '(Ver.1.0, Jan 2013)'), (1708, 'Current', '(Ver.6.0, Mar 2019)')]:
    fig.text(x / W, 1 - 57 / H, a, family=NARROW, fontweight='normal', fontsize=33, ha='center', va='center')
    fig.text(x / W, 1 - 121 / H, b, family=NARROW, fontweight='normal', fontsize=33, ha='center', va='center')

# captions under each column
for x0, x1, x2, num in [(229, 265, 436, '19,000'), (1451, 1485, 1659, '36,000')]:
    fig.text(x0 / W, 1 - 1140 / H, '~', family=NARROW, fontweight='normal', style='italic', fontsize=41, va='center')
    fig.text(x1 / W, 1 - 1140 / H, num, family=NARROW, fontweight='normal', style='italic', fontsize=38, va='center', color='red')
    fig.text(x2 / W, 1 - 1140 / H, 'earthquakes', family=NARROW, fontweight='normal', style='italic', fontsize=41, va='center')

# slide heading, nearly all of it is above the crop
for x, s in [(1045, 'g'), (1219, '('), (1655, ')')]:
    fig.text(x / W, 1 + 18 / H, s, fontsize=72, ha='center', va='baseline')

# arrow between the columns
outer = [(971, 569), (1152, 569), (1152, 527), (1236, 611), (1152, 695), (1152, 653), (971, 653)]
inner = [(982, 580), (1162, 580), (1162, 552), (1222, 611), (1162, 671), (1162, 642), (982, 642)]
shadow = [(x + 2, y + 4) for x, y in outer]
fig.add_artist(px_poly(fig, shadow, fc='#000000', ec='none', alpha=0.22))
fig.add_artist(px_poly(fig, outer, fc='black', ec='none'))
fig.add_artist(px_poly(fig, inner, fc='#8C8C8C', ec='none'))

fig.savefig('out.png', dpi=100, facecolor=BG)
